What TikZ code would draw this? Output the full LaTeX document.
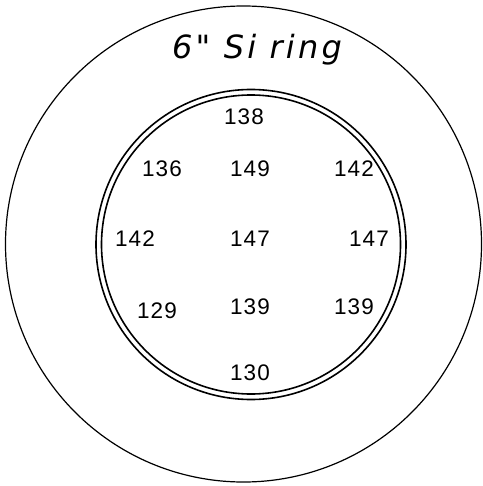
\documentclass[tikz,border=0pt]{standalone}
\usepackage{fontspec}
\setmainfont{Liberation Sans}
\newfontfamily\numfont[LetterSpace=5]{Liberation Sans}
\newfontfamily\titlefont[LetterSpace=10]{DejaVu Sans}
\begin{document}
\begin{tikzpicture}[x=1pt,y=-1pt,
  num/.style={font=\numfont\fontsize{22.5}{22.5}\selectfont, inner sep=0pt},
  ringline/.style={line width=1.6pt}]
\useasboundingbox (0,0) rectangle (482,486);
\coordinate (oc) at (243.5,244);
\coordinate (ic) at (251,244.5);
\draw[line width=1.2pt] (oc) circle[radius=238];
\draw[ringline] (ic) circle[radius=155];
\draw[ringline] (ic) circle[radius=149.5];
\node[inner sep=0pt, font=\titlefont\itshape\fontsize{32}{32}\selectfont] (title) at (257,50) {6" Si ring};
\node[num] (n138) at (244,117) {138};
\node[num] (n136) at (162,169) {136};
\node[num] (n149) at (250,169) {149};
\node[num] (n142r) at (354,169) {142};
\node[num] (n142l) at (135,239) {142};
\node[num] (n147c) at (250,239) {147};
\node[num] (n147r) at (369,239) {147};
\node[num] (n129) at (157,311) {129};
\node[num] (n139c) at (250,307) {139};
\node[num] (n139r) at (354,307) {139};
\node[num] (n130) at (250,373) {130};
\end{tikzpicture}
\end{document}
